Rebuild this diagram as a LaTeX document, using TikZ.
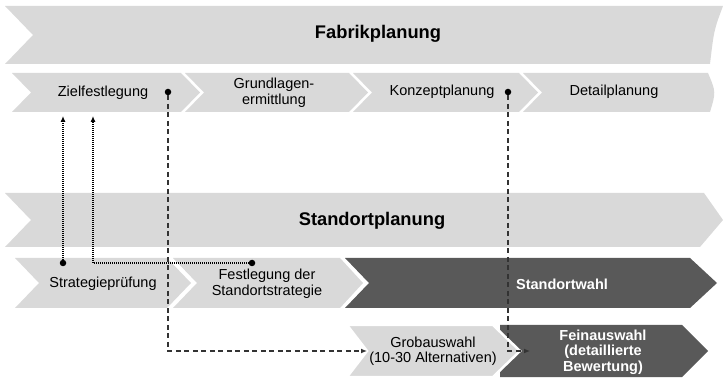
\documentclass[tikz,border=0pt]{standalone}
\usepackage{fontspec}
\setmainfont{Liberation Sans}
\usepackage{tikz}
\usetikzlibrary{arrows.meta}
\definecolor{lightgrey}{HTML}{D9D9D9}
\definecolor{darkgrey}{HTML}{595959}
\definecolor{linegrey}{HTML}{333333}
\def\lightchev{\fill[lightgrey]}
\def\darkchev{\fill[darkgrey]}
\def\dotnode{\node[circle,fill=black,inner sep=0pt,minimum size=6.5pt]}

\begin{document}
\begin{tikzpicture}[x=1pt,y=-1pt,
  txt/.style={font=\fontsize{14.5}{15.5}\selectfont,align=center,inner sep=0pt},
  headtxt/.style={font=\fontsize{18.3}{20}\selectfont\bfseries,inner sep=0pt},
  wtxt/.style={txt,font=\fontsize{14.5}{15.5}\selectfont\bfseries,text=white},
  dotline/.style={line width=1.1pt,dash pattern=on 1pt off 1pt,-{Latex[length=6pt,width=5pt]}},
  dashline/.style={linegrey,line width=1.2pt,dash pattern=on 5pt off 3.5pt,-{Latex[length=6pt,width=5pt]}}]
\useasboundingbox (0,0) rectangle (723,379);
% Fabrikplanung
\lightchev (5,6) -- (723,6) .. controls (714,30) .. (710,64) -- (5,64) -- (33,35) -- cycle;
\lightchev (12,73) -- (181,73) -- (200,92.5) -- (181,112) -- (12,112) -- (31,92.5) -- cycle;
\lightchev (185,73) -- (349,73) -- (368,92.5) -- (349,112) -- (185,112) -- (204,92.5) -- cycle;
\lightchev (353,73) -- (519,73) -- (538,92.5) -- (519,112) -- (353,112) -- (372,92.5) -- cycle;
\lightchev (523,73) -- (708,73) .. controls (716,92) .. (710,112) -- (523,112) -- (542,92.5) -- cycle;
% Standortplanung
\lightchev (5,193) -- (704,193) -- (723,220) -- (700,247) -- (5,247) -- (31,220) -- cycle;
\lightchev (15,258) -- (167,258) -- (191,283) -- (167,308) -- (15,308) -- (39,283) -- cycle;
\lightchev (173,258) -- (340,258) -- (363,283) -- (340,308) -- (173,308) -- (197,283) -- cycle;
\darkchev (345,258) -- (690,258) -- (717,283) -- (690,308) -- (345,308) -- (369,283) -- cycle;
\darkchev (500,325) -- (682,325) -- (708,351) -- (682,377) -- (500,377) -- cycle;
\fill[lightgrey,draw=white,line width=2.5pt] (347,325) -- (493,325) -- (520,351) -- (493,377) -- (347,377) -- (367,351) -- cycle;

\node[headtxt] (fabrik) at (378,34) {Fabrikplanung};
\node[txt] (ziel) at (103,93) {Zielfestlegung};
\node[txt] (grund) at (274,93) {Grundlagen-\\ermittlung};
\node[txt] (konzept) at (442,92) {Konzeptplanung};
\node[txt] (detail) at (614,92) {Detailplanung};
\node[headtxt] (standort) at (372,221) {Standortplanung};
\node[txt] (strategie) at (103,284) {Strategieprüfung};
\node[txt] (festlegung) at (267,284) {Festlegung der\\Standortstrategie};
\node[wtxt] (wahl) at (562,284) {Standortwahl};
\node[txt] (grob) at (433,351) {Grobauswahl\\(10-30 Alternativen)};
\node[wtxt] (fein) at (603,352) {Feinauswahl\\(detaillierte\\Bewertung)};

\dotnode (zieldot) at (168,92) {};
\dotnode (konzdot) at (508,92) {};
\dotnode (stratdot) at (63,263) {};
\dotnode (festdot) at (252,263) {};
\coordinate (zielin1) at (63,116);
\coordinate (zielin2) at (93,116);
\coordinate (grobin) at (367,351);
\coordinate (feinin) at (530,351);

\draw[dotline] (stratdot) -- (zielin1);
\draw[dotline] (festdot) -| (zielin2);
\draw[dashline] (zieldot) |- (grobin);
\draw[dashline] (konzdot) |- (feinin);
\end{tikzpicture}
\end{document}
